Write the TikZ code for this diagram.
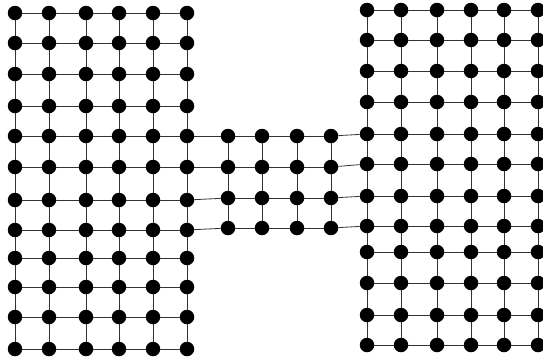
\documentclass[tikz,border=0pt]{standalone}
\begin{document}
\begin{tikzpicture}[x=1pt,y=-1pt,
  vtx/.style={circle,fill=black,inner sep=0pt,minimum size=14.5pt},
  edge/.style={draw=black!80,line width=0.8pt}]
\useasboundingbox (0,0) rectangle (543,360);
\def\LX{15,49,86,119,153,187}
\def\LY{13,43,74,106,136,167,200,230,258,287,317,349}
\def\MX{228,262,297,331}
\def\MY{136,167,198,228}
\def\RX{367,401,437,471,504,538}
\def\RY{10,40,71,102,134,164,196,226,252,283,315,345}
% nodes
\foreach \y [count=\r] in \LY {\foreach \x [count=\c] in \LX {\node[vtx] (L-\r-\c) at (\x,\y) {};}}
\foreach \y [count=\r] in \MY {\foreach \x [count=\c] in \MX {\node[vtx] (M-\r-\c) at (\x,\y) {};}}
\foreach \y [count=\r] in \RY {\foreach \x [count=\c] in \RX {\node[vtx] (R-\r-\c) at (\x,\y) {};}}
% left and right block edges
\foreach \b in {L,R}{
  \foreach \r in {1,...,12}{
    \foreach \c [evaluate=\c as \n using {int(\c+1)}] in {1,...,5}{
      \draw[edge] (\b-\r-\c) -- (\b-\r-\n);}}
  \foreach \r [evaluate=\r as \n using {int(\r+1)}] in {1,...,11}{
    \foreach \c in {1,...,6}{
      \draw[edge] (\b-\r-\c) -- (\b-\n-\c);}}
}
% middle edges
\foreach \r [evaluate=\r as \k using {int(\r+4)}] in {1,...,4}{
  \draw[edge] (L-\k-6) -- (M-\r-1);
  \draw[edge] (M-\r-4) -- (R-\k-1);
  \foreach \c [evaluate=\c as \n using {int(\c+1)}] in {1,...,3}{
    \draw[edge] (M-\r-\c) -- (M-\r-\n);}}
\foreach \r [evaluate=\r as \n using {int(\r+1)}] in {1,...,3}{
  \foreach \c in {1,...,4}{
    \draw[edge] (M-\r-\c) -- (M-\n-\c);}}
\end{tikzpicture}
\end{document}
